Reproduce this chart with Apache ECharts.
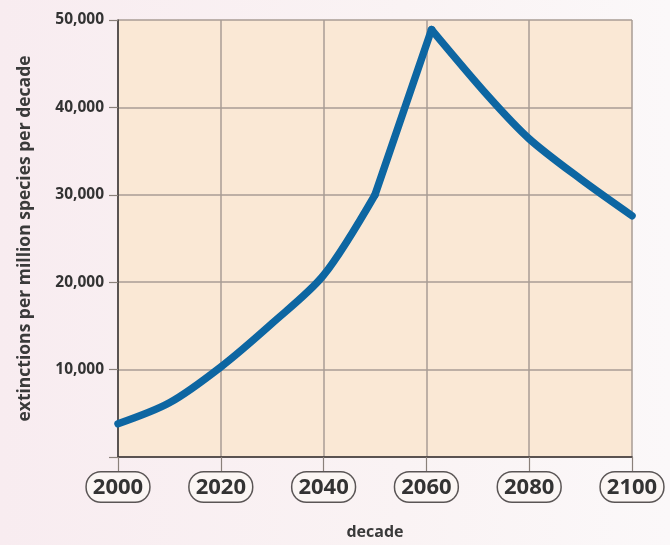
<!DOCTYPE html>
<html>
<head>
<meta charset="utf-8">
<script src="https://cdn.jsdelivr.net/npm/echarts@6/dist/echarts.min.js"></script>
<style>
  html, body { margin: 0; padding: 0; }
  #chart { width: 670px; height: 545px; }
</style>
</head>
<body>
<div id="chart"></div>
<script>
// Data
const years = [2000, 2010, 2020, 2030, 2040, 2050, 2061, 2072, 2080, 2090, 2100];
const extinctions = [3800, 6200, 10300, 15300, 20800, 30000, 48900, 41300, 36400, 31800, 27600];
// years where the curve bends sharply (the curve is drawn smooth between them)
const kinkYears = [2050, 2061];
const xTickYears = [2000, 2020, 2040, 2060, 2080, 2100];
const yTicks = [0, 10000, 20000, 30000, 40000, 50000];
const xTitle = 'decade';
const yTitle = 'extinctions per million species per decade';

const chart = echarts.init(document.getElementById('chart'));
const fontFam = '"Open Sans", "Noto Sans", sans-serif';

const points = years.map((y, i) => [y, extinctions[i]]);
const bounds = [years[0]].concat(kinkYears, [years[years.length - 1]]);
const segments = [];
for (let s = 0; s < bounds.length - 1; s++) {
  segments.push(points.filter(p => p[0] >= bounds[s] && p[0] <= bounds[s + 1]));
}

const lineColor = '#0d66a2';

chart.setOption({
  backgroundColor: {
    type: 'linear', x: 0, y: 0, x2: 1, y2: 0,
    colorStops: [
      { offset: 0, color: '#f8ecf0' },
      { offset: 0.6, color: '#faf3f4' },
      { offset: 1, color: '#fbf8f9' }
    ]
  },
  animation: false,
  grid: {
    left: 118, right: 38, top: 20, bottom: 84,
    show: true, backgroundColor: '#fae8d5', borderWidth: 0
  },
  xAxis: {
    type: 'value',
    min: xTickYears[0], max: xTickYears[xTickYears.length - 1], interval: 20,
    name: xTitle, nameLocation: 'middle', nameGap: 67,
    nameTextStyle: { fontFamily: fontFam, fontWeight: 'bold', fontSize: 16, color: '#3a3a3a' },
    axisLine: { show: true, lineStyle: { color: '#3a3535', width: 1.5 } },
    axisTick: { show: true, length: 17, lineStyle: { color: '#8a807a', width: 1.2 } },
    splitLine: { show: true, lineStyle: { color: '#a89d94', width: 1.5 } },
    axisLabel: {
      margin: 18,
      formatter: v => xTickYears.indexOf(v) >= 0 ? '{b|' + v + '}' : '',
      rich: {
        b: {
          fontFamily: fontFam, fontWeight: 'bold', fontSize: 22, color: '#333333',
          lineHeight: 24,
          backgroundColor: '#fbf6f4', borderColor: '#5a5555', borderWidth: 1.5,
          borderRadius: 14, padding: [4, 6, 3, 6]
        }
      }
    }
  },
  yAxis: {
    type: 'value',
    min: yTicks[0], max: yTicks[yTicks.length - 1], interval: 10000,
    name: yTitle, nameLocation: 'middle', nameGap: 84,
    nameTextStyle: { fontFamily: fontFam, fontWeight: 'bold', fontSize: 17.5, color: '#3a3a3a' },
    axisLine: { show: true, lineStyle: { color: '#3a3535', width: 1.5 } },
    axisTick: { show: true, length: 9, lineStyle: { color: '#8a807a', width: 1.2 } },
    splitLine: { show: true, lineStyle: { color: '#a89d94', width: 1.5 } },
    axisLabel: {
      margin: 14,
      fontFamily: fontFam, fontWeight: 'bold', fontSize: 15.5, color: '#333333',
      formatter: v => v === 0 ? '' : v.toLocaleString('en-US')
    }
  },
  series: segments.map((seg, i) => ({
    type: 'line',
    data: seg,
    showSymbol: false,
    smooth: i === 1 ? false : 0.3,
    lineStyle: { color: lineColor, width: 7.5, cap: 'round', join: 'round' },
    z: 5
  }))
});
</script>
</body>
</html>
